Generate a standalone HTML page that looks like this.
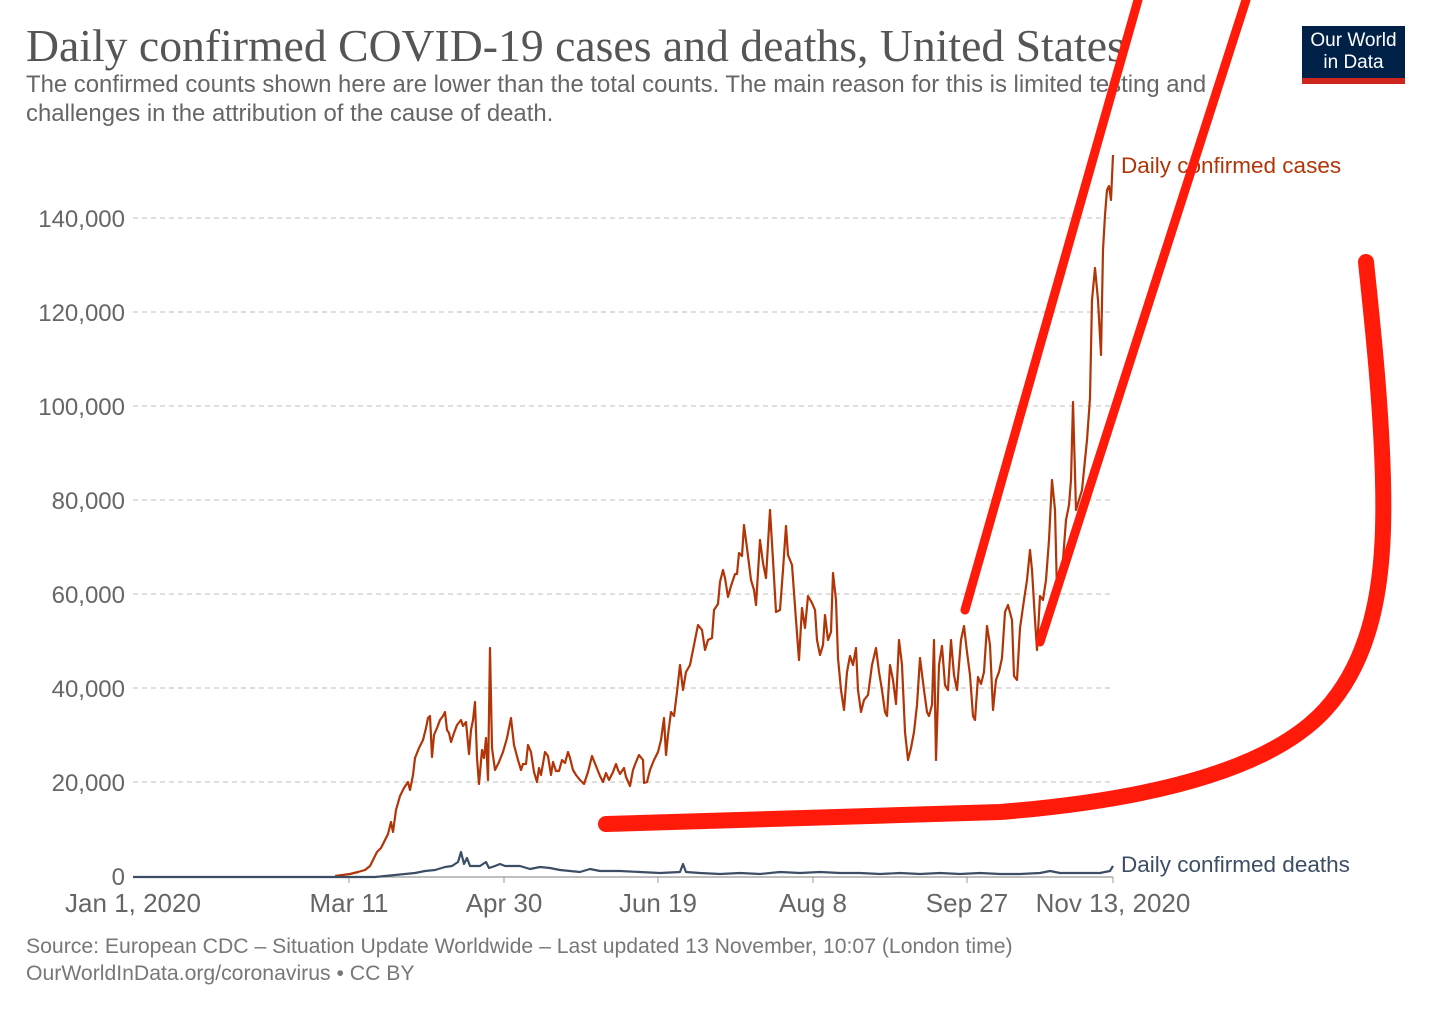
<!DOCTYPE html>
<html><head><meta charset="utf-8"><style>
body{margin:0;width:1430px;height:1010px;background:#fff;overflow:hidden;position:relative;font-family:"Liberation Sans",sans-serif}
.t{position:absolute;left:26px;top:19px;font-family:"Liberation Serif",serif;font-size:45.7px;color:#555;white-space:nowrap}
.s{position:absolute;left:26px;top:70px;font-size:23.9px;color:#666;line-height:29px;width:1240px}
.logo{position:absolute;left:1302px;top:26px;width:103px;height:58px;background:#002147;color:#fff;font-size:19px;line-height:22px;text-align:center;padding-top:4px;box-sizing:border-box}
.logo:after{content:"";position:absolute;left:0;right:0;bottom:0;height:6px;background:#ce261e}
.f{position:absolute;left:26px;top:933px;font-size:21.2px;color:#777;line-height:27px;white-space:nowrap}
</style></head><body>
<div class="t">Daily confirmed COVID-19 cases and deaths, United States</div>
<div class="s">The confirmed counts shown here are lower than the total counts. The main reason for this is limited testing and<br>challenges in the attribution of the cause of death.</div>
<div class="logo">Our World<br>in Data</div>
<svg width="1430" height="1010" style="position:absolute;left:0;top:0">
<g stroke="#ccc" stroke-dasharray="5,4" stroke-width="1.3">
<line x1="133" x2="1113" y1="782" y2="782"/><line x1="133" x2="1113" y1="688" y2="688"/><line x1="133" x2="1113" y1="594" y2="594"/><line x1="133" x2="1113" y1="500" y2="500"/><line x1="133" x2="1113" y1="406" y2="406"/><line x1="133" x2="1113" y1="312" y2="312"/><line x1="133" x2="1113" y1="218" y2="218"/>
</g>
<line x1="133" x2="1113" y1="877" y2="877" stroke="#999" stroke-width="1.3"/>
<g stroke="#999"><line x1="349" x2="349" y1="877" y2="883"/><line x1="504" x2="504" y1="877" y2="883"/><line x1="658" x2="658" y1="877" y2="883"/><line x1="813" x2="813" y1="877" y2="883"/><line x1="967" x2="967" y1="877" y2="883"/><line x1="1113" x2="1113" y1="877" y2="883"/></g>
<g font-size="24" fill="#666" text-anchor="end">
<text x="125" y="885">0</text><text x="125" y="791">20,000</text><text x="125" y="697">40,000</text><text x="125" y="603">60,000</text><text x="125" y="509">80,000</text><text x="125" y="415">100,000</text><text x="125" y="321">120,000</text><text x="125" y="227">140,000</text>
</g>
<g font-size="26" fill="#666" text-anchor="middle">
<text x="133" y="912">Jan 1, 2020</text><text x="349" y="912">Mar 11</text><text x="504" y="912">Apr 30</text><text x="658" y="912">Jun 19</text><text x="813" y="912">Aug 8</text><text x="967" y="912">Sep 27</text><text x="1113" y="912">Nov 13, 2020</text>
</g>
<polyline fill="none" stroke="#b13507" stroke-width="2.2" stroke-linejoin="round" points="335,876 350,874 358,872 365,870 370,866 374,858 377,852 381,848 385,840 388,834 391,822 393,832 396,810 400,796 404,788 408,782 410,790 413,775 415,758 419,748 423,740 426,728 428,718 430,716 432,757 434,735 437,728 440,720 443,716 445,712 447,730 449,733 451,742 454,733 457,725 461,720 463,726 466,722 469,754 471,730 473,720 475,702 477,758 479,784 482,750 484,758 486,738 488,780 490,648 492,748 495,770 499,762 503,752 507,738 511,718 514,745 518,760 521,770 523,764 526,764 528,745 531,752 534,772 537,782 539,768 541,775 545,752 548,756 551,775 553,762 556,771 559,771 562,760 565,763 568,752 570,758 573,770 576,775 580,780 582,782 584,784 588,772 592,756 596,766 600,776 603,782 606,773 609,780 613,772 616,764 618,770 620,774 624,768 626,777 630,786 633,770 636,762 639,755 643,760 644,783 647,782 650,770 654,760 658,752 661,740 664,718 666,755 668,735 671,712 674,716 677,692 680,665 683,690 686,672 690,665 695,640 698,625 702,630 705,650 708,640 712,638 714,610 718,604 720,582 723,570 725,578 728,597 731,586 735,574 737,574 739,553 742,556 744,525 747,548 751,580 754,590 756,605 760,540 763,563 766,578 770,510 773,560 776,612 780,610 783,570 786,526 788,555 792,565 796,620 799,660 802,608 805,628 808,596 812,603 815,610 817,640 820,655 823,645 825,615 828,640 831,632 833,573 836,600 838,658 841,690 844,710 847,672 850,656 853,665 856,648 858,690 861,712 864,700 868,695 872,665 876,648 879,672 882,690 885,712 887,716 890,665 893,680 896,704 899,640 902,665 905,732 908,760 911,748 914,732 917,705 920,658 924,690 927,712 929,716 932,705 934,640 936,760 939,665 942,646 945,685 948,690 951,640 954,675 957,690 961,640 964,626 967,652 970,675 973,716 975,720 978,677 981,684 984,672 987,626 990,645 993,710 996,680 999,672 1002,658 1005,612 1008,605 1012,620 1014,676 1017,680 1020,628 1024,600 1027,580 1030,550 1032,570 1035,620 1037,650 1040,596 1043,600 1046,580 1049,540 1052,480 1055,510 1057,592 1060,570 1063,560 1066,520 1069,505 1071,480 1073,402 1076,510 1079,500 1082,490 1084,470 1087,440 1090,398 1092,300 1095,268 1098,300 1101,355 1103,250 1105,215 1107,190 1109,186 1111,200 1113,155"/>
<polyline fill="none" stroke="#3c4e66" stroke-width="2.2" stroke-linejoin="round" points="133,877 375,877 385,876 395,875 405,874 415,873 425,871 435,870 445,867 452,866 458,862 461,852 464,864 467,858 470,866 480,866 486,862 489,868 495,866 500,864 505,866 510,866 520,866 530,869 540,867 550,868 560,870 570,871 580,872 590,869 600,871 620,871 640,872 660,873 680,872 683,864 686,872 700,873 720,874 740,873 760,874 780,872 800,873 820,872 840,873 860,873 880,874 900,873 920,874 940,873 960,874 980,873 1000,874 1020,874 1040,873 1050,871 1060,873 1080,873 1100,873 1110,871 1113,866"/>
<text x="1121" y="173" font-size="22.5" fill="#b13507">Daily confirmed cases</text>
<text x="1121" y="872" font-size="22.5" fill="#3c4e66">Daily confirmed deaths</text>
<g stroke="#ff1a0a" fill="none" stroke-linecap="round">
<line x1="965" y1="610" x2="1138" y2="0" stroke-width="9"/>
<line x1="1040" y1="642" x2="1246" y2="0" stroke-width="9"/>
<path d="M606,824 L1000,812 C1150,800 1270,770 1325,710 C1380,650 1385,560 1383,480 C1381,400 1372,320 1366,262" stroke-width="16"/>
</g>
</svg>
<div class="f">Source: European CDC – Situation Update Worldwide – Last updated 13 November, 10:07 (London time)<br>OurWorldInData.org/coronavirus • CC BY</div>
</body></html>
